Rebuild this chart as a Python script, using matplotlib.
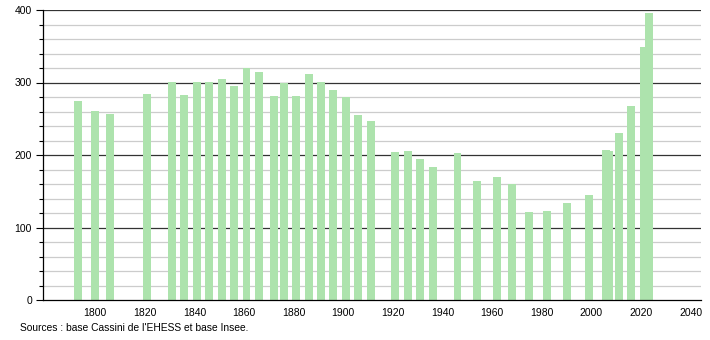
import matplotlib.pyplot as plt
from matplotlib.ticker import MultipleLocator

plt.rcParams['font.family'] = ['Liberation Sans', 'DejaVu Sans']

# Census years and population
years = [1793, 1800, 1806, 1821, 1831, 1836, 1841, 1846, 1851, 1856,
         1861, 1866, 1872, 1876, 1881, 1886, 1891, 1896, 1901, 1906,
         1911, 1921, 1926, 1931, 1936, 1946, 1954, 1962, 1968, 1975,
         1982, 1990, 1999, 2006, 2007, 2011, 2016, 2021, 2023]
population = [275, 261, 257, 284, 301, 283, 301, 301, 305, 295,
              320, 314, 282, 299, 281, 312, 301, 290, 280, 255,
              247, 204, 206, 195, 183, 203, 164, 170, 160, 121,
              123, 134, 145, 207, 205, 230, 268, 349, 396]

xticks = list(range(1800, 2041, 20))
source = "Sources : base Cassini de l'EHESS et base Insee."

fig = plt.figure(figsize=(7.1, 3.4), dpi=100)
ax = fig.add_axes([43 / 710, 40 / 340, (700.7 - 43) / 710, 290 / 340])

# grid lines
for v in range(20, 401, 20):
    if v % 100 == 0:
        ax.axhline(v, color='#333333', lw=0.9, zorder=1)
    else:
        ax.axhline(v, color='#cccccc', lw=0.9, zorder=1)

ax.bar(years, population, width=3.2, color='#ade3ad', zorder=2)

ax.set_xlim(1779, 2044)
ax.set_ylim(0, 400)
ax.set_xticks(xticks)
ax.yaxis.set_major_locator(MultipleLocator(100))
ax.yaxis.set_minor_locator(MultipleLocator(20))
ax.tick_params(axis='x', length=0, labelsize=7.5, pad=6)
ax.tick_params(axis='y', which='major', length=5, width=0.8, labelsize=7.5, pad=3)
ax.tick_params(axis='y', which='minor', length=3, width=0.8)

for s in ['top', 'right']:
    ax.spines[s].set_visible(False)
ax.spines['left'].set_linewidth(0.9)
ax.spines['bottom'].set_linewidth(0.9)

fig.text(20 / 710, 1 - 328 / 340, source, fontsize=7.4, va='center', ha='left')

fig.savefig('out.png', dpi=100)
